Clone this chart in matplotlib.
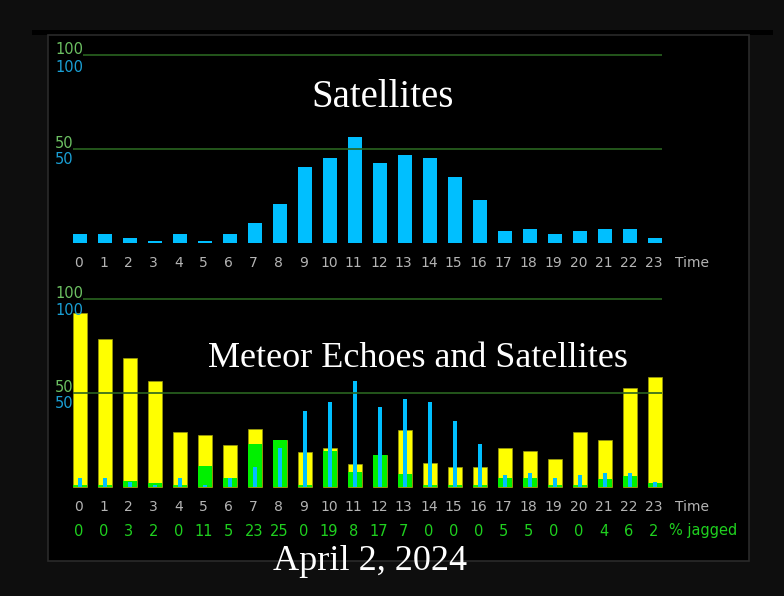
import numpy as np
import matplotlib.pyplot as plt
from matplotlib.patches import Rectangle

# hourly values
hours = list(range(24))
satellites = [5, 5, 2.5, 1, 5, 1, 5, 10.5, 20.5, 40.5, 45, 56.5,
              42.5, 47, 45, 35, 23, 6.5, 7.5, 5, 6.5, 7.5, 7.5, 2.5]
meteors = [92.5, 78.5, 68.5, 56.5, 29, 27.5, 22.5, 31, 25, 18.5, 21, 12.5,
           17, 30.5, 13, 10.5, 10.5, 21, 19, 15, 29, 25, 52.5, 58.5]
jagged = [0, 0, 3, 2, 0, 11, 5, 23, 25, 0, 19, 8,
          17, 7, 0, 0, 0, 5, 5, 0, 0, 4, 6, 2]
grid_values = [100, 50]

W, H = 784, 596
PX_PER_UNIT = 1.88
BAR_W = 0.56

SAT_BLUE = '#00bfff'
YELLOW = '#ffff00'
GREEN = '#00f000'
GRID = '#2a6420'
LBL_GREEN = '#6cc062'
LBL_BLUE = '#1a9fd4'
TICK_GRAY = '#b4b4b4'
JAG_GREEN = '#1fd01f'

fig = plt.figure(figsize=(W / 100, H / 100), dpi=100, facecolor='#0e0e0e')


def fx(px):
    return px / W


def fy(py):
    return 1 - py / H


# black panel and borders
fig.patches.append(Rectangle((fx(32), fy(35)), fx(773) - fx(32), fy(30) - fy(35),
                             transform=fig.transFigure, facecolor='#000000', zorder=-2))
fig.patches.append(Rectangle((fx(48), fy(561)), fx(749) - fx(48), fy(35) - fy(561),
                             transform=fig.transFigure, facecolor='#000000',
                             edgecolor='#2a2a2a', linewidth=1.2, zorder=-2))


def make_axes(top_px, bottom_px, zero_px):
    ax = fig.add_axes([fx(48), fy(bottom_px), fx(748) - fx(48), fy(top_px) - fy(bottom_px)])
    ax.set_xlim((48 - 80) / 25, (748 - 80) / 25)
    ax.set_ylim((zero_px - bottom_px) / PX_PER_UNIT, (zero_px - top_px) / PX_PER_UNIT)
    ax.axis('off')
    ax.patch.set_alpha(0)
    return ax


def yval(zero_px, py):
    return (zero_px - py) / PX_PER_UNIT


def draw_axis_labels(ax, zero_px, label_px):
    # gridlines + left labels
    for v in grid_values:
        start = 0.12 if v == 100 else -0.28
        ax.hlines(v, start, 23 + BAR_W / 2, color=GRID, linewidth=1.2, zorder=4)
    offs = {100: (-5, 12), 50: (-5, 11)}
    for v in grid_values:
        gy = zero_px - v * PX_PER_UNIT
        ax.text(-1.0, yval(zero_px, gy + offs[v][0]), str(v), color=LBL_GREEN,
                fontsize=10.5, ha='left', va='center', zorder=5)
        ax.text(-1.0, yval(zero_px, gy + offs[v][1]), str(v), color=LBL_BLUE,
                fontsize=10.5, ha='left', va='center', zorder=5)
    for h in hours:
        ax.text(h - 0.05, yval(zero_px, label_px), str(h), color=TICK_GRAY,
                fontsize=10, ha='center', va='center')
    ax.text(23.8, yval(zero_px, label_px), 'Time', color=TICK_GRAY,
            fontsize=10, ha='left', va='center')


# top chart: satellites
TOP_ZERO = 243
ax1 = make_axes(35, 275, TOP_ZERO)
ax1.bar(hours, satellites, width=BAR_W, color=SAT_BLUE, zorder=2)
draw_axis_labels(ax1, TOP_ZERO, 263)

# bottom chart: meteor echoes and satellites
BOT_ZERO = 487
ax2 = make_axes(275, 560, BOT_ZERO)
ax2.bar(hours, meteors, width=BAR_W, color=YELLOW, edgecolor='#9a9a10',
        linewidth=0.5, zorder=2)
ax2.bar(hours, jagged, width=BAR_W, color=GREEN, zorder=2.5)
x = np.array(hours)
ax2.hlines(np.full(len(hours), 0.4), x - BAR_W / 2, x + BAR_W / 2,
           color=GREEN, linewidth=1.3, zorder=2.6)
ax2.bar(hours, satellites, width=0.18, color=SAT_BLUE, zorder=3)
draw_axis_labels(ax2, BOT_ZERO, 507)
for h, j in zip(hours, jagged):
    ax2.text(h - 0.05, yval(BOT_ZERO, 531), str(j), color=JAG_GREEN,
             fontsize=10.5, ha='center', va='center')
ax2.text(23.55, yval(BOT_ZERO, 531), '% jagged', color=JAG_GREEN,
         fontsize=10.5, ha='left', va='center')

# titles
fig.text(fx(383), fy(107), 'Satellites', color='white', fontsize=28,
         family='Liberation Serif', ha='center', va='baseline')
fig.text(fx(417.5), fy(367), 'Meteor Echoes and Satellites', color='white',
         fontsize=26, family='Liberation Serif', ha='center', va='baseline')
fig.text(fx(370.5), fy(570), 'April 2, 2024', color='white', fontsize=26,
         family='Liberation Serif', ha='center', va='baseline')

fig.savefig('out.png', dpi=100, facecolor=fig.get_facecolor())
